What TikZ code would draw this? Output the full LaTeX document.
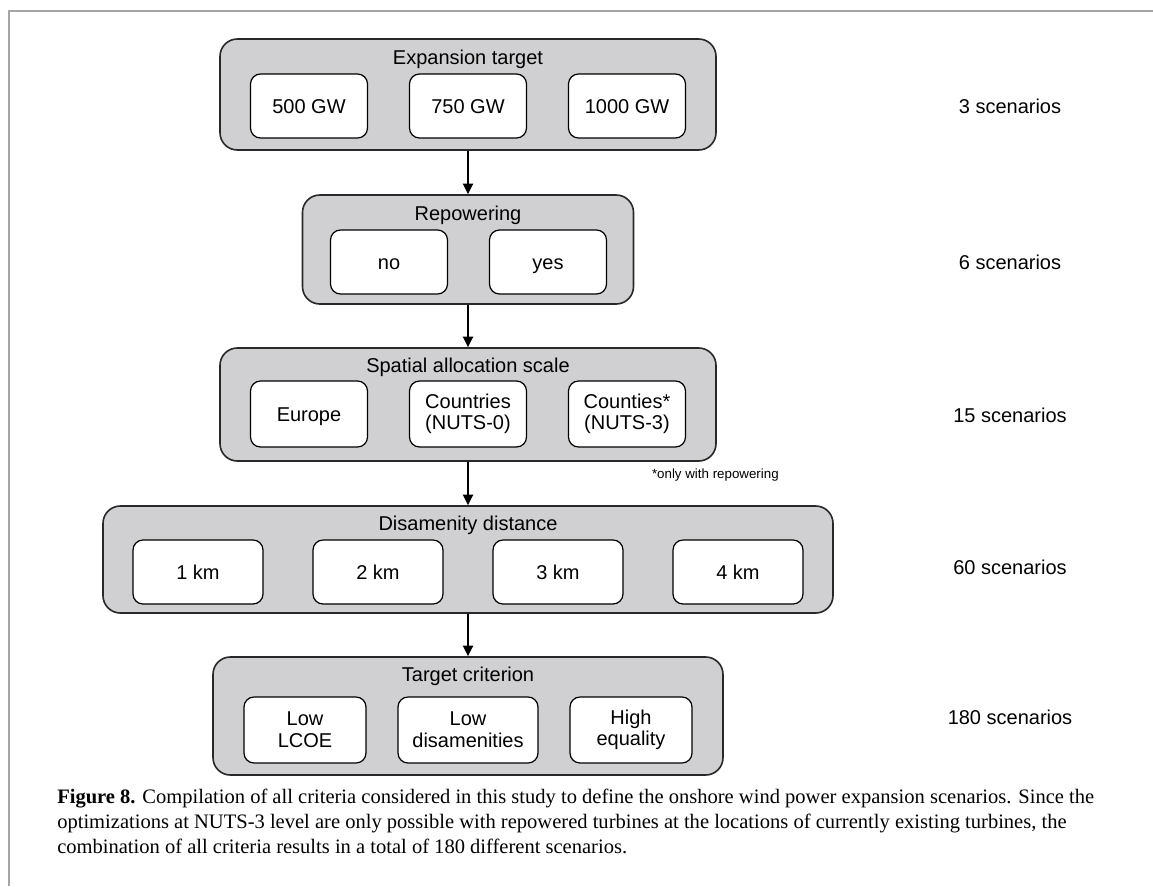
\documentclass[tikz,border=0pt]{standalone}
\usepackage{fontspec}
\setmainfont{Liberation Serif}
\setsansfont{Liberation Sans}
\usetikzlibrary{arrows.meta}
\definecolor{groupfill}{RGB}{208,207,209}
\definecolor{groupdraw}{RGB}{40,40,40}
\definecolor{framegray}{RGB}{165,165,165}
\def\pxu{0.75pt}
\tikzset{
  group/.style={draw=groupdraw, line width=1.2pt, fill=groupfill, rounded corners=13pt, inner sep=0pt},
  option/.style={draw=black, line width=0.9pt, fill=white, rounded corners=7.5pt, inner sep=0pt, align=center,
    font=\sffamily\fontsize{15}{16.2}\selectfont, minimum height=64*\pxu, minimum width=117*\pxu},
  oneline/.style={text height=12.7pt, text depth=2pt},
  gtitle/.style={font=\sffamily\fontsize{15}{16}\selectfont, inner sep=0pt, text height=12.7pt, text depth=2pt},
  scen/.style={font=\sffamily\fontsize{15}{16}\selectfont, inner sep=0pt, text height=12.7pt, text depth=2pt},
  note/.style={font=\sffamily\fontsize{10}{12}\selectfont, inner sep=0pt},
  capline/.style={font=\rmfamily\fontsize{15.4}{17}\selectfont, inner sep=0pt, anchor=base west},
  flow/.style={-{Triangle[length=8pt,width=7.5pt]}, line width=1.8pt},
  frameline/.style={draw=framegray, line width=0.9pt},
}
\begin{document}
\begin{tikzpicture}[x=\pxu,y=-\pxu]
\useasboundingbox (0,0) rectangle (1153,886);
% frame
\coordinate (fa) at (1153,11);
\coordinate (fb) at (9,11);
\coordinate (fc) at (9,886);
\draw[frameline] (fa) -- (fb) -- (fc);

% group 1
\node[group, minimum width=496*\pxu, minimum height=111*\pxu] (g1) at (468,94.5) {};
\node[gtitle] (t1) at (468,57) {Expansion target};
\node[option, oneline] (a1) at (309,106) {500 GW};
\node[option, oneline] (a2) at (468,106) {750 GW};
\node[option, oneline] (a3) at (627,106) {1000 GW};
\node[scen] (s1) at (1010,106) {3 scenarios};

% group 2
\node[group, minimum width=331*\pxu, minimum height=109*\pxu] (g2) at (468,249.5) {};
\node[gtitle] (t2) at (468,213) {Repowering};
\node[option, oneline] (b1) at (389,262) {no};
\node[option, oneline] (b2) at (548,262) {yes};
\node[scen] (s2) at (1010,262) {6 scenarios};

% group 3
\node[group, minimum width=496*\pxu, minimum height=113*\pxu] (g3) at (468,404.5) {};
\node[gtitle] (t3) at (468,365) {Spatial allocation scale};
\node[option, oneline, minimum height=66*\pxu] (c1) at (309,414) {Europe};
\node[option, minimum height=66*\pxu] (c2) at (468,414) {Countries\\(NUTS-0)};
\node[option, minimum height=66*\pxu] (c3) at (627,414) {Counties*\\(NUTS-3)};
\node[note, anchor=east] (n3) at (779,475) {*only with repowering};
\node[scen] (s3) at (1010,415) {15 scenarios};

% group 4
\node[group, minimum width=730*\pxu, minimum height=107*\pxu] (g4) at (468,559.5) {};
\node[gtitle] (t4) at (468,523) {Disamenity distance};
\node[option, oneline, minimum width=130*\pxu] (d1) at (198,572) {1 km};
\node[option, oneline, minimum width=130*\pxu] (d2) at (378,572) {2 km};
\node[option, oneline, minimum width=130*\pxu] (d3) at (558,572) {3 km};
\node[option, oneline, minimum width=130*\pxu] (d4) at (738,572) {4 km};
\node[scen] (s4) at (1010,567) {60 scenarios};

% group 5
\node[group, minimum width=510*\pxu, minimum height=118*\pxu] (g5) at (468,716) {};
\node[gtitle] (t5) at (468,674) {Target criterion};
\node[option, minimum width=122*\pxu, minimum height=66*\pxu] (e1) at (305,730) {Low\\LCOE};
\node[option, minimum width=140*\pxu, minimum height=66*\pxu] (e2) at (468,730) {Low\\disamenities};
\node[option, minimum width=122*\pxu, minimum height=66*\pxu] (e3) at (631,730) {High\\equality};
\node[scen] (s5) at (1010,717) {180 scenarios};

% arrows
\draw[flow] (g1.south) -- (g2.north);
\draw[flow] (g2.south) -- (g3.north);
\draw[flow] (g3.south) -- (g4.north);
\draw[flow] (g4.south) -- (g5.north);

% caption
\node[capline] (cap1) at (57,803) {\textbf{Figure 8.} Compilation of all criteria considered in this study to define the onshore wind power expansion scenarios. Since the};
\node[capline] (cap2) at (57,828) {optimizations at NUTS-3 level are only possible with repowered turbines at the locations of currently existing turbines, the};
\node[capline] (cap3) at (57,853) {combination of all criteria results in a total of 180 different scenarios.};
\end{tikzpicture}
\end{document}
